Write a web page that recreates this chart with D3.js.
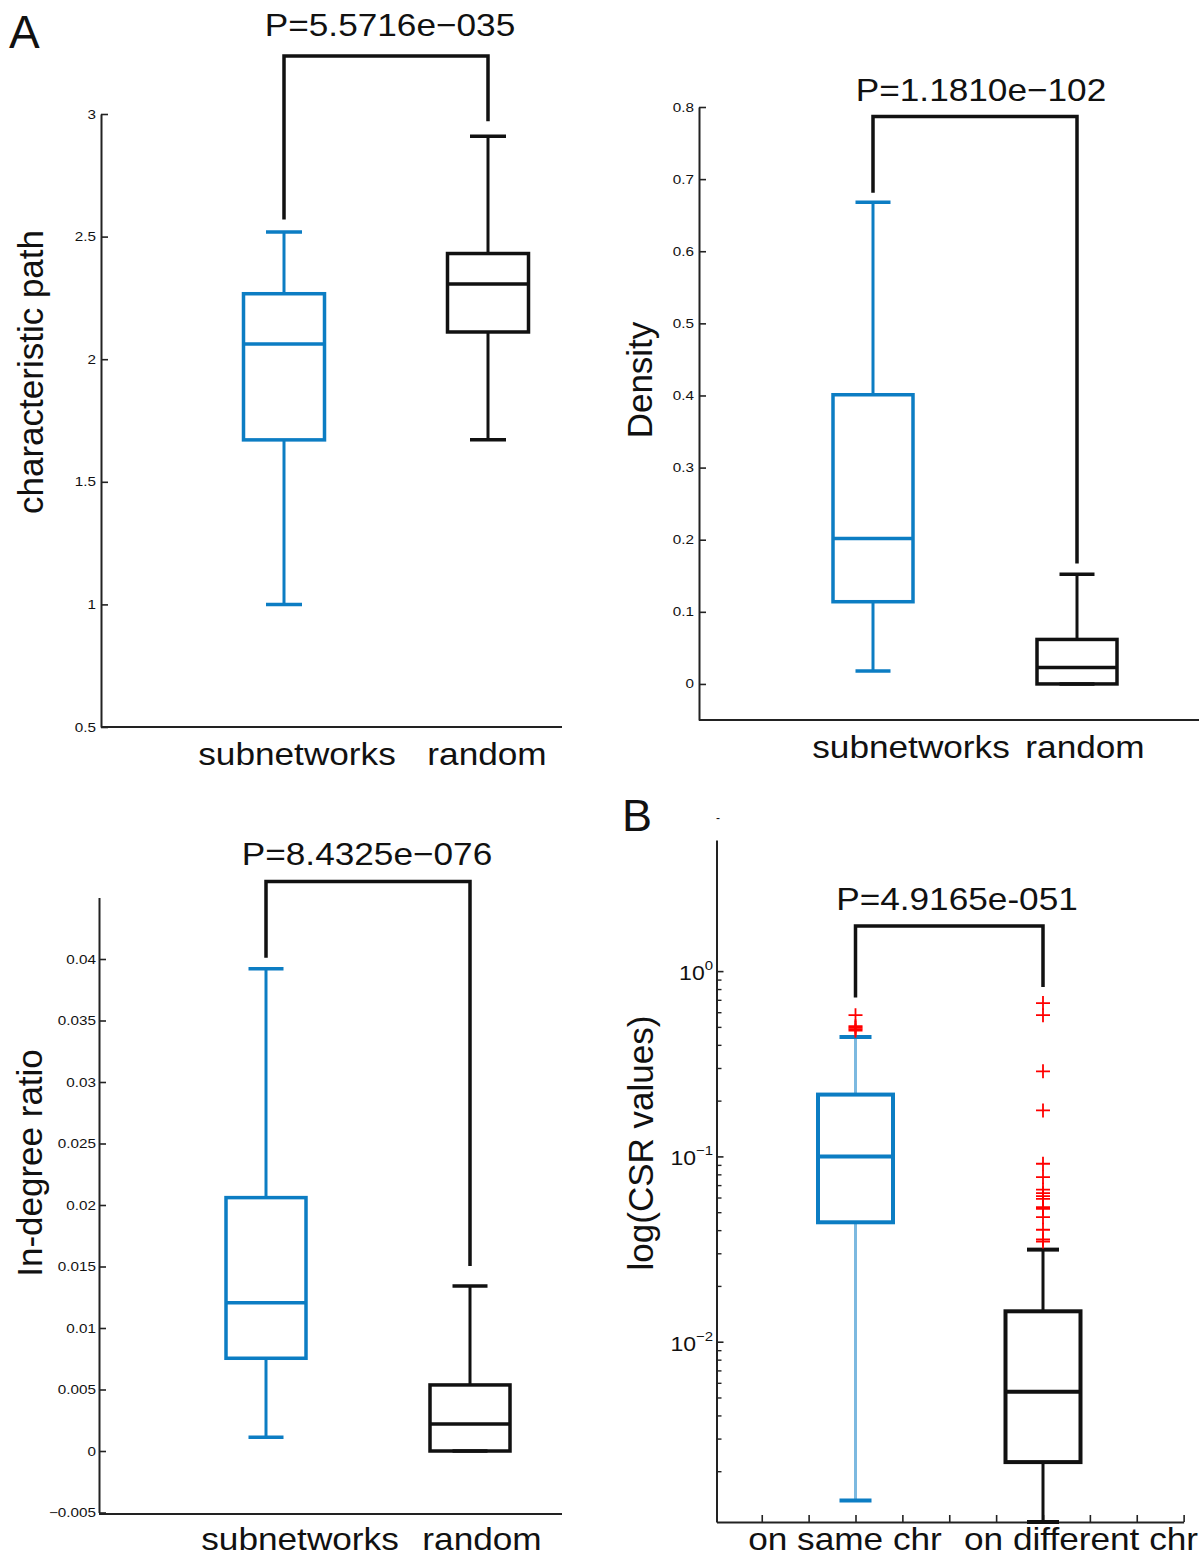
<!DOCTYPE html>
<html><head><meta charset="utf-8">
<script src="https://cdn.jsdelivr.net/npm/d3@7"></script>
<style>
body{margin:0;background:#fff}
svg{display:block}
text{font-family:"Liberation Sans",Arial,Helvetica,sans-serif;fill:#111}
</style>
</head><body>
<svg id="c" width="1202" height="1558"></svg>
<script>
// ---------------- DATA ----------------
const netGroups = ["subnetworks", "random"];
const chrGroups = ["on same chr", "on different chr"];

// characteristic path
const pathLow = [1.0, 1.671];
const pathQ1 = [1.671, 2.111];
const pathMed = [2.062, 2.307];
const pathQ3 = [2.267, 2.431];
const pathHigh = [2.519, 2.909];
const pathBracket = [2.57, 2.97];
const pathTicks = [0.5, 1, 1.5, 2, 2.5, 3];
const pathTickLabels = ["0.5", "1", "1.5", "2", "2.5", "3"];
const pathP = "P=5.5716e\u2212035";

// density
const densLow = [0.018, 0];
const densQ1 = [0.114, 0];
const densMed = [0.2015, 0.0228];
const densQ3 = [0.401, 0.0617];
const densHigh = [0.668, 0.152];
const densBracket = [0.681, 0.167];
const densTicks = [0, 0.1, 0.2, 0.3, 0.4, 0.5, 0.6, 0.7, 0.8];
const densTickLabels = ["0", "0.1", "0.2", "0.3", "0.4", "0.5", "0.6", "0.7", "0.8"];
const densP = "P=1.1810e\u2212102";

// in-degree ratio
const indLow = [0.00111, 0];
const indQ1 = [0.00754, 0];
const indMed = [0.01206, 0.0022];
const indQ3 = [0.0206, 0.00537];
const indHigh = [0.0392, 0.01341];
const indBracket = [0.0401, 0.01504];
const indTicks = [-0.005, 0, 0.005, 0.01, 0.015, 0.02, 0.025, 0.03, 0.035, 0.04];
const indTickLabels = ["\u22120.005", "0", "0.005", "0.01", "0.015", "0.02", "0.025", "0.03", "0.035", "0.04"];
const indP = "P=8.4325e\u2212076";

// CSR values (log)
const csrLow = [0.00139, 0.001064];
const csrQ1 = [0.0441, 0.00224];
const csrMed = [0.1, 0.00537];
const csrQ3 = [0.2156, 0.01459];
const csrHigh = [0.4416, 0.0314];
const csrBracket = [0.721, 0.822];
const csrOutSame = [0.578, 0.504, 0.495, 0.486, 0.477];
const csrOutDiff = [0.672, 0.578, 0.288, 0.177, 0.0913, 0.0773, 0.0661, 0.0633, 0.0610, 0.0590, 0.0532, 0.0521, 0.0470, 0.0402, 0.0356, 0.0347];
const csrMajorTicks = [1, 0.1, 0.01];
const csrMajorExp = ["0", "\u22121", "\u22122"];
const csrMinorTicks = [0.9, 0.8, 0.7, 0.6, 0.5, 0.4, 0.3, 0.2,
                       0.09, 0.08, 0.07, 0.06, 0.05, 0.04, 0.03, 0.02,
                       0.009, 0.008, 0.007, 0.006, 0.005, 0.004, 0.003, 0.002];
const csrXTicks = [0.5, 0.75, 1, 1.25, 1.5, 1.75, 2, 2.25, 2.5, 2.75];
const csrP = "P=4.9165e-051";

// ---------------- STYLE ----------------
const BLUE = "#0c7dc3";
const LIGHTBLUE = "#7cb9e0";
const BLACK = "#111";
const AXIS = "#222";

const svg = d3.select("#c");

function bigText(x, y, str, anchor) {
  svg.append("text")
    .attr("transform", `translate(${x},${y}) scale(1.1,1)`)
    .attr("text-anchor", anchor || "middle")
    .attr("font-size", 32)
    .text(str);
}
function yLabel(x, y, str) {
  svg.append("text")
    .attr("transform", `translate(${x},${y}) rotate(-90)`)
    .attr("text-anchor", "middle")
    .attr("font-size", 35)
    .text(str);
}

function drawPanel(o) {
  const g = svg.append("g");
  const y = o.y, x = o.x;
  // y axis
  const ax = d3.axisLeft(y).tickValues(o.ticks)
    .tickFormat((d, i) => o.tickLabels ? o.tickLabels[i] : "")
    .tickSizeInner(-7).tickSizeOuter(0).tickPadding(o.pad);
  const axG = g.append("g").attr("transform", `translate(${o.axisX},0)`).call(ax);
  axG.select(".domain").attr("stroke", AXIS).attr("stroke-width", 2);
  axG.selectAll(".tick line").attr("stroke", AXIS).attr("stroke-width", 1.6);
  axG.selectAll(".tick text")
    .attr("font-size", 12.5).attr("fill", "#151515")
    .attr("x", -o.pad / 1.22)
    .attr("transform", "scale(1.22,1)");
  if (o.minor) {
    const mAx = d3.axisLeft(y).tickValues(o.minor).tickFormat("").tickSizeInner(-5).tickSizeOuter(0);
    const mG = g.append("g").attr("transform", `translate(${o.axisX},0)`).call(mAx);
    mG.select(".domain").remove();
    mG.selectAll(".tick line").attr("stroke", AXIS).attr("stroke-width", 1.4);
  }
  // x axis
  if (o.xAxisScale) {
    const xa = d3.axisBottom(o.xAxisScale).tickValues(o.xTicks).tickFormat("")
      .tickSizeInner(-7).tickSizeOuter(0);
    const xg = g.append("g").attr("transform", `translate(0,${o.baseY})`).call(xa);
    xg.select(".domain").attr("stroke", AXIS).attr("stroke-width", 2);
    xg.selectAll(".tick line").attr("stroke", AXIS).attr("stroke-width", 1.6);
  } else {
    g.append("line").attr("x1", o.axisX).attr("x2", o.xEnd)
      .attr("y1", o.baseY).attr("y2", o.baseY)
      .attr("stroke", AXIS).attr("stroke-width", 2);
  }
  // boxes
  o.groups.forEach((name, i) => {
    const cx = x(i + 1);
    const col = o.colors[i];
    const stemCol = o.stemColors[i];
    const bw = o.boxW, cw = o.capW, sw = o.sw;
    g.append("line").attr("x1", cx).attr("x2", cx)
      .attr("y1", y(o.low[i])).attr("y2", y(o.q1[i]))
      .attr("stroke", stemCol).attr("stroke-width", o.stemW);
    g.append("line").attr("x1", cx).attr("x2", cx)
      .attr("y1", y(o.q3[i])).attr("y2", y(o.high[i]))
      .attr("stroke", stemCol).attr("stroke-width", o.stemW);
    [o.low[i], o.high[i]].forEach(v => {
      g.append("line").attr("x1", cx - cw / 2).attr("x2", cx + cw / 2)
        .attr("y1", y(v)).attr("y2", y(v))
        .attr("stroke", col).attr("stroke-width", sw);
    });
    g.append("rect").attr("x", cx - bw / 2).attr("y", y(o.q3[i]))
      .attr("width", bw).attr("height", y(o.q1[i]) - y(o.q3[i]))
      .attr("fill", "none").attr("stroke", col).attr("stroke-width", sw);
    g.append("line").attr("x1", cx - bw / 2).attr("x2", cx + bw / 2)
      .attr("y1", y(o.med[i])).attr("y2", y(o.med[i]))
      .attr("stroke", col).attr("stroke-width", sw);
    if (o.outliers && o.outliers[i]) {
      o.outliers[i].forEach(v => {
        g.append("path")
          .attr("d", `M${cx - 7},${y(v)}H${cx + 7}M${cx},${y(v) - 7}V${y(v) + 7}`)
          .attr("stroke", "#ff0000").attr("stroke-width", 1.8).attr("fill", "none");
      });
    }
  });
  // bracket
  g.append("path")
    .attr("d", `M${x(1)},${y(o.bracket[0])}V${o.bracketTop}H${x(2)}V${y(o.bracket[1])}`)
    .attr("fill", "none").attr("stroke", BLACK).attr("stroke-width", 3.5)
    .attr("stroke-linejoin", "miter");
  bigText(o.titleX, o.titleY, o.title);
  o.groups.forEach((name, i) => bigText(o.catX[i], o.catY, name));
  yLabel(o.ylabX, o.ylabY, o.ylab);
}

// Panel A1 : characteristic path
drawPanel({
  groups: netGroups,
  y: d3.scaleLinear().domain([0.5, 3]).range([727, 114]),
  x: d3.scaleLinear().domain([1, 2]).range([284, 488]),
  axisX: 101, xEnd: 562, baseY: 727, pad: 5,
  ticks: pathTicks, tickLabels: pathTickLabels,
  low: pathLow, q1: pathQ1, med: pathMed, q3: pathQ3, high: pathHigh,
  bracket: pathBracket, bracketTop: 56,
  colors: [BLUE, BLACK], stemColors: [BLUE, BLACK],
  boxW: 81, capW: 36, sw: 3.5, stemW: 3,
  title: pathP, titleX: 390, titleY: 36,
  catX: [297, 487], catY: 765,
  ylab: "characteristic path", ylabX: 43, ylabY: 372
});

// Panel A2 : density
drawPanel({
  groups: netGroups,
  y: d3.scaleLinear().domain([-0.05, 0.8]).range([720, 107]),
  x: d3.scaleLinear().domain([1, 2]).range([873, 1077]),
  axisX: 699, xEnd: 1199, baseY: 720, pad: 5,
  ticks: densTicks, tickLabels: densTickLabels,
  low: densLow, q1: densQ1, med: densMed, q3: densQ3, high: densHigh,
  bracket: densBracket, bracketTop: 116.5,
  colors: [BLUE, BLACK], stemColors: [BLUE, BLACK],
  boxW: 80, capW: 35, sw: 3.5, stemW: 3,
  title: densP, titleX: 981, titleY: 101,
  catX: [911, 1085], catY: 758,
  ylab: "Density", ylabX: 652, ylabY: 380
});

// Panel A3 : in-degree ratio
drawPanel({
  groups: netGroups,
  y: d3.scaleLinear().domain([-0.005, 0.045]).range([1512.5, 897.5]),
  x: d3.scaleLinear().domain([1, 2]).range([266, 470]),
  axisX: 99, xEnd: 562, baseY: 1514, pad: 3,
  ticks: indTicks, tickLabels: indTickLabels,
  low: indLow, q1: indQ1, med: indMed, q3: indQ3, high: indHigh,
  bracket: indBracket, bracketTop: 881.5,
  colors: [BLUE, BLACK], stemColors: [BLUE, BLACK],
  boxW: 80, capW: 35, sw: 3.5, stemW: 3,
  title: indP, titleX: 367, titleY: 865,
  catX: [300, 482], catY: 1550,
  ylab: "In-degree ratio", ylabX: 42, ylabY: 1163
});

// Panel B : CSR values (log)
const csrY = d3.scaleLog().domain([0.001064, 5.1]).range([1522, 840]);
const csrX = d3.scaleLinear().domain([1, 2]).range([855.5, 1043]);
drawPanel({
  groups: chrGroups,
  y: csrY,
  x: csrX,
  axisX: 716.5, baseY: 1522, pad: 5,
  xAxisScale: d3.scaleLinear().domain([csrX.invert(716.5), 2.75]).range([716.5, csrX(2.75)]),
  xTicks: csrXTicks,
  ticks: csrMajorTicks, tickLabels: null, minor: csrMinorTicks,
  low: csrLow, q1: csrQ1, med: csrMed, q3: csrQ3, high: csrHigh,
  outliers: [csrOutSame, csrOutDiff],
  bracket: csrBracket, bracketTop: 926,
  colors: [BLUE, BLACK], stemColors: [LIGHTBLUE, BLACK],
  boxW: 75, capW: 32, sw: 4, stemW: 3,
  title: csrP, titleX: 957, titleY: 910,
  catX: [845, 1081], catY: 1550,
  ylab: "log(CSR values)", ylabX: 653, ylabY: 1143
});
// log tick labels 10^n
csrMajorTicks.forEach((v, i) => {
  const t = svg.append("text")
    .attr("transform", `translate(713,${csrY(v) + 9}) scale(1.15,1)`)
    .attr("text-anchor", "end");
  t.append("tspan").attr("font-size", 20).text("10");
  t.append("tspan").attr("font-size", 13).attr("dy", -10).text(csrMajorExp[i]);
});
// stray dash above axis
svg.append("text").attr("x", 718).attr("y", 822).attr("text-anchor", "middle")
  .attr("font-size", 12).attr("fill", "#333").text("-");

// panel letters
svg.append("text").attr("x", 9).attr("y", 48).attr("font-size", 46).text("A");
svg.append("text").attr("x", 622).attr("y", 831).attr("font-size", 45).text("B");
</script>
</body></html>
